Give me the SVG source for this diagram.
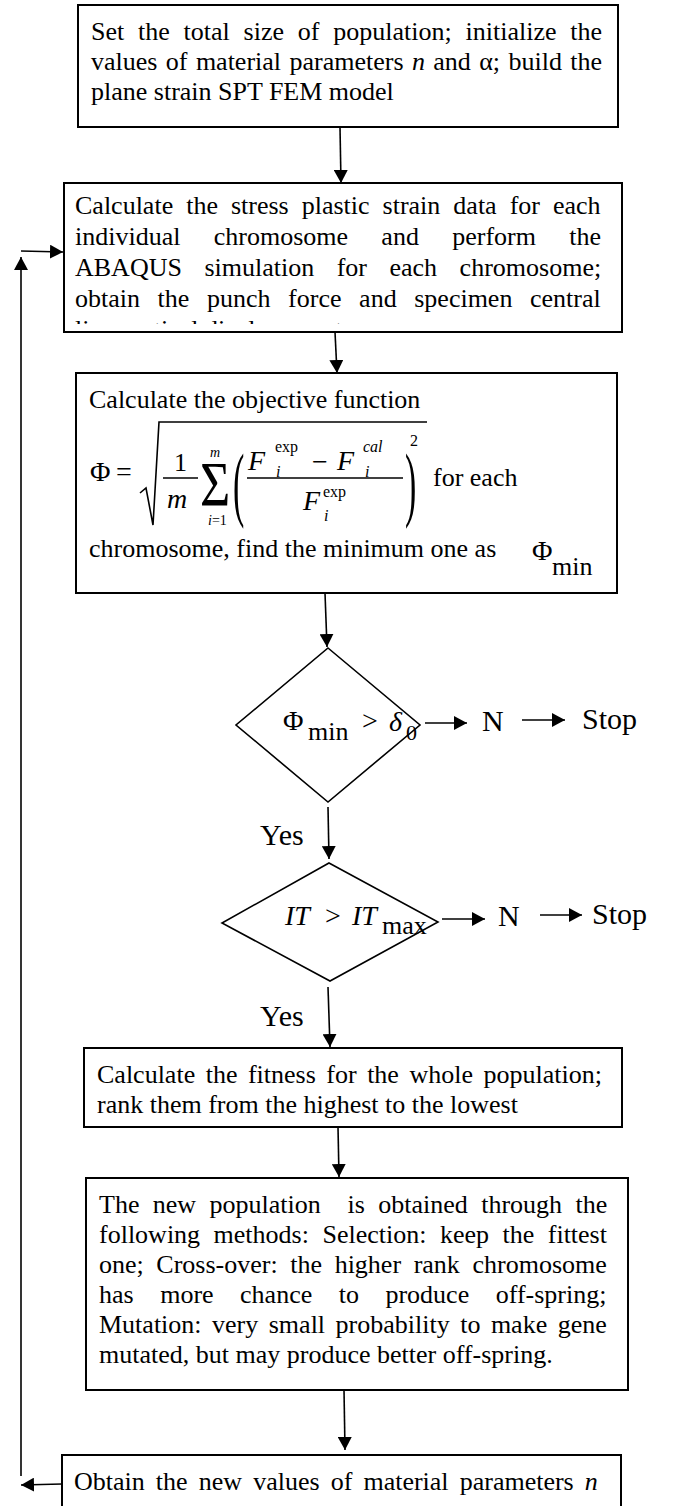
<svg xmlns="http://www.w3.org/2000/svg" width="676" height="1506" viewBox="0 0 676 1506">
<style>
.box{fill:#fff;stroke:#000;stroke-width:2}
.dia{fill:none;stroke:#000;stroke-width:1.6}
.t{font-family:"Liberation Serif","Times New Roman",serif;font-size:26px;fill:#000}
.m{font-family:"Liberation Serif","Times New Roman",serif;font-size:28px;fill:#000}
.s{font-family:"Liberation Serif","Times New Roman",serif;font-size:16px;fill:#000}
.xs{font-family:"Liberation Serif","Times New Roman",serif;font-size:14px;fill:#000}
.lb{font-family:"Liberation Serif","Times New Roman",serif;font-size:30px;fill:#000}
.i{font-style:italic}
.ln{stroke:#000;stroke-width:1.6;fill:none}
#connectors line{stroke:#000;stroke-width:1.6;marker-end:url(#ah)}
</style>
<defs>
<marker id="ah" markerUnits="userSpaceOnUse" markerWidth="14" markerHeight="14" refX="13" refY="7" orient="auto">
<path d="M0,0 L13,7 L0,14 z" fill="#000"/>
</marker>
<clipPath id="clip2"><rect x="64" y="183" width="558" height="141"/></clipPath>
</defs>

<g id="node-init">
<rect class="box" x="78" y="5" width="540" height="122"/>
<text class="t" x="91" y="40" word-spacing="7.3">Set the total size of population; initialize the</text>
<text class="t" x="91" y="70" word-spacing="1.9">values of material parameters <tspan class="i">n</tspan> and α; build the</text>
<text class="t" x="91" y="100">plane strain SPT FEM model</text>
</g>

<g id="node-simulate">
<rect class="box" x="64" y="183" width="558" height="149"/>
<g clip-path="url(#clip2)">
<text class="t" x="75" y="214" word-spacing="6.5">Calculate the stress plastic strain data for each</text>
<text class="t" x="75" y="245" word-spacing="26.8">individual chromosome and perform the</text>
<text class="t" x="75" y="276" word-spacing="16">ABAQUS simulation for each chromosome;</text>
<text class="t" x="75" y="307" word-spacing="11.1">obtain the punch force and specimen central</text>
<text class="t" x="75" y="338">line vertical displacement</text>
</g>
</g>

<g id="node-objective">
<rect class="box" x="76" y="373" width="541" height="220"/>
<text class="t" x="89" y="408">Calculate the objective function</text>
<text class="m" x="90" y="481">Φ</text>
<text class="m" x="116" y="481">=</text>
<polyline class="ln" points="140,493 146,488 153,525 159,422 427,422"/>
<text class="t" x="174" y="471">1</text>
<line class="ln" x1="163" y1="478" x2="198" y2="478"/>
<text class="m i" x="167" y="508">m</text>
<text class="xs i" x="210" y="457">m</text>
<text transform="translate(200,506) scale(1,1.2)" style="font-family:'Liberation Serif','Times New Roman',serif;font-size:52px">Σ</text>
<text class="xs" x="208" y="525"><tspan class="i">i</tspan>=1</text>
<text transform="translate(233,511) scale(1,2.4)" style="font-family:'Liberation Serif','Times New Roman',serif;font-size:34px">(</text>
<text class="m i" x="248" y="470">F</text>
<text class="s" x="275" y="452">exp</text>
<text class="s i" x="276" y="477">i</text>
<text class="m" x="312" y="471">−</text>
<text class="m i" x="337" y="470">F</text>
<text class="s i" x="363" y="452">cal</text>
<text class="s i" x="365" y="477">i</text>
<line class="ln" x1="247" y1="478" x2="403" y2="478"/>
<text class="m i" x="303" y="510">F</text>
<text class="s" x="323" y="497">exp</text>
<text class="s i" x="324" y="521">i</text>
<text transform="translate(405,511) scale(1,2.4)" style="font-family:'Liberation Serif','Times New Roman',serif;font-size:34px">)</text>
<text class="s" x="410" y="446">2</text>
<text class="t" x="433" y="486">for each</text>
<text class="t" x="89" y="557">chromosome, find the minimum one as</text>
<text class="m" x="532" y="560">Φ</text>
<text class="t" x="552" y="575">min</text>
</g>

<g id="node-check-phi">
<polygon class="dia" points="328,648 420,725 328,802 236,725"/>
<text class="m" x="283" y="730">Φ</text>
<text class="t" x="308" y="740">min</text>
<text class="m" x="362" y="730">&gt;</text>
<text class="m i" x="389" y="731">δ</text>
<text x="406" y="740" style="font-family:'Liberation Serif','Times New Roman',serif;font-size:22px">0</text>
</g>

<g id="node-stop1">
<text class="lb" x="482" y="731">N</text>
<text class="lb" x="582" y="729">Stop</text>
</g>

<g id="node-check-it">
<polygon class="dia" points="329,863 438,922 330,981 222,923"/>
<text class="m i" x="285" y="925">IT</text>
<text class="m" x="325" y="925">&gt;</text>
<text class="m i" x="352" y="925">IT</text>
<text class="t" x="382" y="934">max</text>
</g>

<g id="node-stop2">
<text class="lb" x="498" y="926">N</text>
<text class="lb" x="592" y="924">Stop</text>
</g>

<g id="labels">
<text class="lb" x="260" y="845">Yes</text>
<text class="lb" x="260" y="1026">Yes</text>
</g>

<g id="node-fitness">
<rect class="box" x="84" y="1048" width="538" height="79"/>
<text class="t" x="97" y="1083" word-spacing="4">Calculate the fitness for the whole population;</text>
<text class="t" x="97" y="1113">rank them from the highest to the lowest</text>
</g>

<g id="node-newpop">
<rect class="box" x="86" y="1178" width="542" height="212"/>
<text class="t" x="99" y="1213" word-spacing="6.9" xml:space="preserve">The new population  is obtained through the</text>
<text class="t" x="99" y="1243" word-spacing="7">following methods: Selection: keep the fittest</text>
<text class="t" x="99" y="1273" word-spacing="6.1">one; Cross-over: the higher rank chromosome</text>
<text class="t" x="99" y="1303" word-spacing="20">has more chance to produce off-spring;</text>
<text class="t" x="99" y="1333" word-spacing="4">Mutation: very small probability to make gene</text>
<text class="t" x="99" y="1363">mutated, but may produce better off-spring.</text>
</g>

<g id="node-obtain">
<rect class="box" x="62" y="1455" width="559" height="60"/>
<text class="t" x="74" y="1490" word-spacing="4.6">Obtain the new values of material parameters <tspan class="i">n</tspan></text>
</g>

<g id="connectors">
<line x1="340" y1="127" x2="341" y2="183"/>
<line x1="335" y1="332" x2="337" y2="373"/>
<line x1="325" y1="593" x2="327" y2="647"/>
<line x1="425" y1="723" x2="467" y2="723"/>
<line x1="522" y1="720" x2="565" y2="720"/>
<line x1="328" y1="807" x2="329" y2="859"/>
<line x1="442" y1="919" x2="485" y2="919"/>
<line x1="540" y1="915" x2="582" y2="915"/>
<line x1="328" y1="987" x2="330" y2="1047"/>
<line x1="338" y1="1127" x2="339" y2="1177"/>
<line x1="344" y1="1390" x2="345" y2="1450"/>
<line x1="62" y1="1484" x2="21" y2="1485"/>
<line x1="21" y1="1476" x2="21" y2="257"/>
<line x1="21" y1="251" x2="63" y2="252"/>
</g>
</svg>
